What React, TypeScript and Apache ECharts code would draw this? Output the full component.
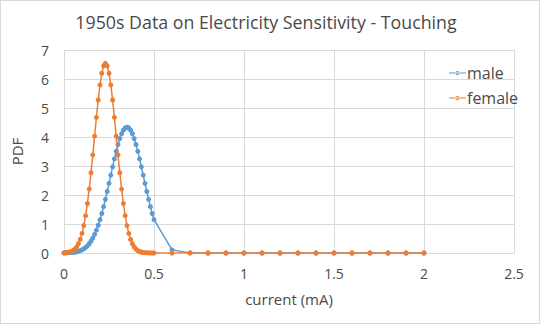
import React, { useEffect, useRef } from "react";
import * as echarts from "echarts";

const xDense = [
  0, 0.01, 0.02, 0.03, 0.04, 0.05, 0.06, 0.07, 0.08, 0.09, 0.1, 0.11, 0.12, 0.13, 0.14, 0.15, 0.16,
  0.17, 0.18, 0.19, 0.2, 0.21, 0.22, 0.23, 0.24, 0.25, 0.26, 0.27, 0.28, 0.29, 0.3, 0.31, 0.32, 0.33,
  0.34, 0.35, 0.36, 0.37, 0.38, 0.39, 0.4, 0.41, 0.42, 0.43, 0.44, 0.45, 0.46, 0.47, 0.48, 0.49, 0.5,
];
const xSparse = [0.6, 0.7, 0.8, 0.9, 1.0, 1.1, 1.2, 1.3, 1.4, 1.5, 1.6, 1.7, 1.8, 1.9, 2.0];

const maleDense = [
  0.003, 0.005, 0.007, 0.01, 0.015, 0.021, 0.03, 0.042, 0.058, 0.08, 0.108, 0.144, 0.191, 0.248,
  0.32, 0.408, 0.514, 0.64, 0.787, 0.956, 1.148, 1.362, 1.598, 1.852, 2.121, 2.401, 2.687, 2.971,
  3.246, 3.505, 3.741, 3.945, 4.111, 4.235, 4.31, 4.336, 4.31, 4.235, 4.111, 3.945, 3.741, 3.505,
  3.246, 2.971, 2.687, 2.401, 2.121, 1.852, 1.598, 1.362, 1.148,
];
const maleSparse = [0.108, 0.003, 0, 0, 0, 0, 0, 0, 0, 0, 0, 0, 0, 0, 0];

const femaleDense = [
  0.005, 0.01, 0.018, 0.03, 0.051, 0.084, 0.135, 0.21, 0.318, 0.469, 0.675, 0.944, 1.286, 1.706,
  2.203, 2.768, 3.386, 4.032, 4.674, 5.275, 5.795, 6.198, 6.453, 6.54, 6.453, 6.198, 5.795, 5.275,
  4.674, 4.032, 3.386, 2.768, 2.203, 1.706, 1.286, 0.944, 0.675, 0.469, 0.318, 0.21, 0.135, 0.084,
  0.051, 0.03, 0.018, 0.01, 0.005, 0.003, 0.002, 0.001, 0,
];
const femaleSparse = [0, 0, 0, 0, 0, 0, 0, 0, 0, 0, 0, 0, 0, 0, 0];

const xTicks = [0, 0.5, 1, 1.5, 2, 2.5];
const yTicks = [0, 1, 2, 3, 4, 5, 6, 7];

const FONT = "'Open Sans', 'Noto Sans', sans-serif";
const TXT = "#4a4a4a";
const GRID = "#D9D9D9";

function pairs(xs: number[], ys: number[]) {
  return xs.map((x, i) => [x, ys[i]]);
}

const ICON =
  "path://M0,4.5 L20,4.5 L20,5.5 L0,5.5 Z M10,5 m-2.5,0 a2.5,2.5 0 1,0 5,0 a2.5,2.5 0 1,0 -5,0";

export default function App() {
  const ref = useRef<HTMLDivElement>(null);
  useEffect(() => {
    if (!ref.current) return;
    const chart = echarts.init(ref.current, undefined, { renderer: "svg" });
    const male = pairs(xDense.concat(xSparse), maleDense.concat(maleSparse));
    const female = pairs(xDense.concat(xSparse), femaleDense.concat(femaleSparse));
    chart.setOption({
      animation: false,
      backgroundColor: "#ffffff",
      title: {
        text: "1950s Data on Electricity Sensitivity - Touching",
        left: 260,
        top: 7,
        textAlign: "center",
        textStyle: { fontFamily: FONT, fontSize: 17.8, fontWeight: "normal", color: TXT },
      },
      legend: {
        orient: "vertical",
        left: 443,
        top: 59,
        itemGap: 9,
        itemWidth: 17,
        itemHeight: 10,
        textStyle: { fontFamily: FONT, fontSize: 16, color: TXT, padding: [0, 0, 0, -4] },
        data: [
          { name: "male", icon: ICON },
          { name: "female", icon: ICON },
        ],
      },
      grid: { left: 62, right: 25, top: 49, bottom: 70, containLabel: false },
      xAxis: {
        type: "value",
        min: 0,
        max: 2.5,
        interval: 0.5,
        name: "current (mA)",
        nameLocation: "middle",
        nameGap: 38,
        nameTextStyle: { fontFamily: FONT, fontSize: 15, color: TXT },
        axisLine: { show: true, lineStyle: { color: GRID } },
        axisTick: { show: false },
        splitLine: { show: true, lineStyle: { color: GRID } },
        axisLabel: {
          fontFamily: FONT,
          fontSize: 14,
          color: TXT,
          margin: 13,
          formatter: (v: number) => (xTicks.includes(v) ? String(v) : ""),
        },
      },
      yAxis: {
        type: "value",
        min: 0,
        max: 7,
        interval: 1,
        name: "PDF",
        nameLocation: "middle",
        nameGap: 40,
        nameRotate: 90,
        nameTextStyle: { fontFamily: FONT, fontSize: 15, color: TXT },
        axisLine: { show: false },
        axisTick: { show: false },
        splitLine: { show: true, lineStyle: { color: GRID } },
        axisLabel: {
          fontFamily: FONT,
          fontSize: 14,
          color: TXT,
          margin: 15,
          formatter: (v: number) => (yTicks.includes(v) ? String(v) : ""),
        },
      },
      series: [
        {
          name: "male",
          type: "line",
          data: male,
          color: "#5B9BD5",
          symbol: "circle",
          symbolSize: 5,
          lineStyle: { width: 1.5, color: "#5B9BD5" },
          itemStyle: { color: "#5B9BD5" },
          z: 2,
        },
        {
          name: "female",
          type: "line",
          data: female,
          color: "#ED7D31",
          symbol: "circle",
          symbolSize: 5,
          lineStyle: { width: 1.5, color: "#ED7D31" },
          itemStyle: { color: "#ED7D31" },
          z: 3,
        },
      ],
    });
    return () => chart.dispose();
  }, []);
  return (
    <div
      style={{
        position: "fixed",
        left: 0,
        top: 0,
        width: 540,
        height: 324,
        boxSizing: "border-box",
        border: "1px solid #D9D9D9",
        background: "#fff",
      }}
    >
      <div ref={ref} style={{ width: 538, height: 322 }} />
    </div>
  );
}
